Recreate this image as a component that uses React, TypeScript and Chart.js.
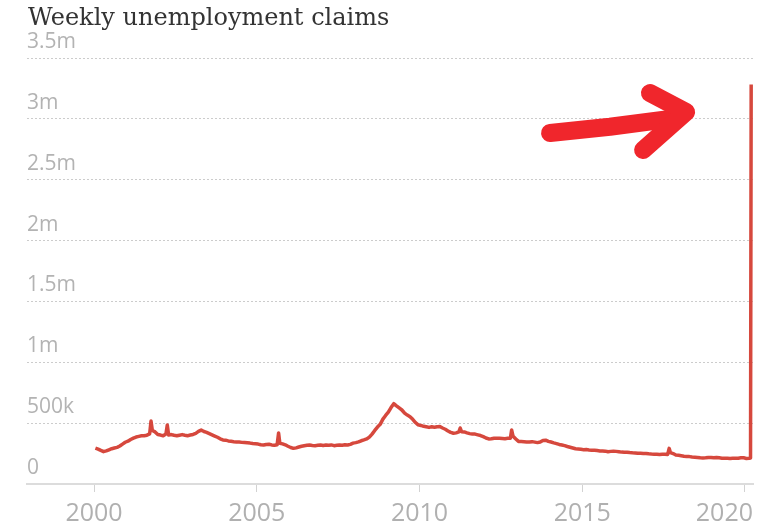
import React, { useEffect, useRef } from 'react';
import { Chart, registerables } from 'chart.js';

Chart.register(...registerables);

const TITLE = 'Weekly unemployment claims';

// Axis ticks
const xTickYears = [2000, 2005, 2010, 2015, 2020];
const yTickValues = [0, 500, 1000, 1500, 2000, 2500, 3000, 3500];
const yTickLabels = ['0', '500k', '1m', '1.5m', '2m', '2.5m', '3m', '3.5m'];

// Claims in thousands, one value per month, Jan 2000 .. Feb 2020
const firstYear = 2000;
const monthlyClaims = [
  // 2000
  295, 287, 276, 266, 272, 281, 290, 296, 301, 312, 328, 343,
  // 2001
  352, 366, 377, 386, 391, 396, 397, 401, 412, 440, 428, 406,
  // 2002
  402, 396, 410, 403, 406, 400, 396, 401, 406, 401, 397, 402,
  // 2003
  407, 416, 432, 443, 431, 424, 414, 404, 394, 384, 371, 362,
  // 2004
  360, 354, 351, 348, 346, 345, 342, 340, 338, 336, 332, 330,
  // 2005
  328, 322, 320, 325, 327, 321, 318, 322, 335, 330, 322, 310,
  // 2006
  300, 293, 297, 304, 310, 314, 318, 320, 317, 315, 318, 321,
  // 2007
  316, 320, 318, 321, 315, 318, 320, 318, 322, 320, 326, 336,
  // 2008
  340, 346, 355, 362, 370, 385, 410, 440, 468, 490, 533, 563,
  // 2009
  590, 628, 660, 642, 625, 608, 582, 566, 553, 531, 505, 486,
  // 2010
  481, 474, 470, 465, 470, 467, 471, 472, 460, 450, 436, 424,
  // 2011
  417, 420, 428, 430, 428, 420, 414, 410, 410, 404, 398, 389,
  // 2012
  378, 370, 372, 376, 375, 376, 374, 372, 375, 376, 392, 370,
  // 2013
  350, 349, 348, 346, 345, 348, 344, 340, 345, 358, 360, 350,
  // 2014
  345, 338, 332, 325, 320, 315, 308, 302, 296, 290, 288, 285,
  // 2015
  282, 283, 280, 278, 278, 275, 272, 272, 270, 265, 268, 270,
  // 2016
  268, 265, 262, 260, 261, 258, 256, 255, 252, 252, 250, 251,
  // 2017
  248, 246, 245, 244, 242, 244, 245, 243, 258, 250, 238, 236,
  // 2018
  232, 228, 226, 225, 222, 220, 218, 215, 214, 215, 218, 218,
  // 2019
  215, 218, 215, 212, 212, 212, 210, 212, 212, 212, 215, 215,
  // 2020
  210, 211,
];

// One-week spikes (9/11, early 2002, Katrina, 2011, Sandy, 2017 hurricanes)
const spikeDates = [2001.75, 2002.25, 2005.67, 2011.25, 2012.83, 2017.67];
const spikeValues = [517, 485, 419, 460, 444, 293];

// March 2020 surge
const surgeDates = [2020.17, 2020.19];
const surgeValues = [214, 3283];

// Hand-drawn arrow annotation, in (year, thousands)
const arrowShaft = [[2014.01, 2884], [2015.85, 2935], [2017.76, 3002]];
const arrowHead = [[2017.08, 3212], [2018.19, 3056], [2016.87, 2744]];

const LINE_COLOR = 'rgb(214, 72, 61)';
const ARROW_COLOR = 'rgb(240, 38, 44)';

function buildPoints() {
  const pts: { x: number; y: number }[] = monthlyClaims.map((v, i) => ({
    x: firstYear + (i + 0.5) / 12,
    y: v,
  }));
  spikeDates.forEach((d, i) => pts.push({ x: d, y: spikeValues[i] }));
  surgeDates.forEach((d, i) => pts.push({ x: d, y: surgeValues[i] }));
  pts.sort((a, b) => a.x - b.x);
  return pts;
}

const decorPlugin = {
  id: 'decor',
  beforeDraw(chart: any) {
    const ctx = chart.ctx;
    ctx.save();
    ctx.fillStyle = '#ffffff';
    ctx.fillRect(0, 0, chart.width, chart.height);
    ctx.fillStyle = '#333333';
    ctx.font = '24px "DejaVu Serif"';
    ctx.textAlign = 'left';
    ctx.textBaseline = 'alphabetic';
    ctx.fillText(TITLE, 28, 25);
    ctx.restore();
  },
  afterDatasetsDraw(chart: any) {
    const ctx = chart.ctx;
    const xs = chart.scales.x;
    const ys = chart.scales.y;
    const px = (p: number[]) => [xs.getPixelForValue(p[0]), ys.getPixelForValue(p[1])];
    ctx.save();
    ctx.strokeStyle = ARROW_COLOR;
    ctx.lineWidth = 18;
    ctx.lineCap = 'round';
    ctx.lineJoin = 'round';
    [arrowShaft, arrowHead].forEach((path) => {
      ctx.beginPath();
      path.forEach((p, i) => {
        const [x, y] = px(p);
        if (i === 0) ctx.moveTo(x, y);
        else ctx.lineTo(x, y);
      });
      ctx.stroke();
    });
    ctx.restore();
  },
  afterDraw(chart: any) {
    const ctx = chart.ctx;
    const xs = chart.scales.x;
    const area = chart.chartArea;
    ctx.save();
    ctx.fillStyle = '#b0b0b0';
    ctx.font = '25px "Open Sans"';
    ctx.textAlign = 'left';
    ctx.textBaseline = 'alphabetic';
    xTickYears.forEach((yr) => {
      const label = String(yr);
      const w = ctx.measureText(label).width;
      let left = xs.getPixelForValue(yr) - w / 2;
      if (left + w > area.right) left = area.right - w;
      ctx.fillText(label, left, 521);
    });
    ctx.restore();
  },
};

export default function App() {
  const canvasRef = useRef<HTMLCanvasElement | null>(null);

  useEffect(() => {
    if (!canvasRef.current) return;
    const chart = new Chart(canvasRef.current, {
      type: 'line',
      data: {
        datasets: [
          {
            data: buildPoints(),
            borderColor: LINE_COLOR,
            borderWidth: 3.5,
            pointRadius: 0,
            tension: 0,
            fill: false,
            borderJoinStyle: 'round',
          },
        ],
      },
      options: {
        animation: false,
        responsive: false,
        parsing: false,
        layout: { padding: { top: 58, left: 27, right: 11, bottom: 32 } },
        plugins: {
          legend: { display: false },
          tooltip: { enabled: false },
          title: { display: false },
        },
        scales: {
          x: {
            type: 'linear',
            min: 1997.94,
            max: 2020.246,
            afterBuildTicks: (s: any) => {
              s.ticks = xTickYears.map((v) => ({ value: v }));
            },
            ticks: { display: false },
            grid: {
              display: true,
              drawOnChartArea: false,
              drawTicks: true,
              tickLength: 8,
              color: '#d2d2d2',
              lineWidth: 1,
            },
            border: { display: true, color: '#dcdcdc', width: 2 },
          },
          y: {
            type: 'linear',
            min: 0,
            max: 3500,
            afterBuildTicks: (s: any) => {
              s.ticks = yTickValues.map((v) => ({ value: v }));
            },
            ticks: {
              mirror: true,
              padding: 0,
              labelOffset: -16,
              color: '#b3b3b3',
              font: { family: '"Open Sans"', size: 21 },
              callback: (_v: any, i: number) => yTickLabels[i],
            },
            grid: { color: '#cccccc', lineWidth: 1, drawTicks: false },
            border: { display: false, dash: [2, 2] },
          },
        },
      },
      plugins: [decorPlugin],
    } as any);
    return () => chart.destroy();
  }, []);

  return (
    <div style={{ position: 'fixed', left: 0, top: 0, width: 764, height: 524, background: '#fff' }}>
      <canvas ref={canvasRef} width={764} height={524} style={{ display: 'block' }} />
    </div>
  );
}
